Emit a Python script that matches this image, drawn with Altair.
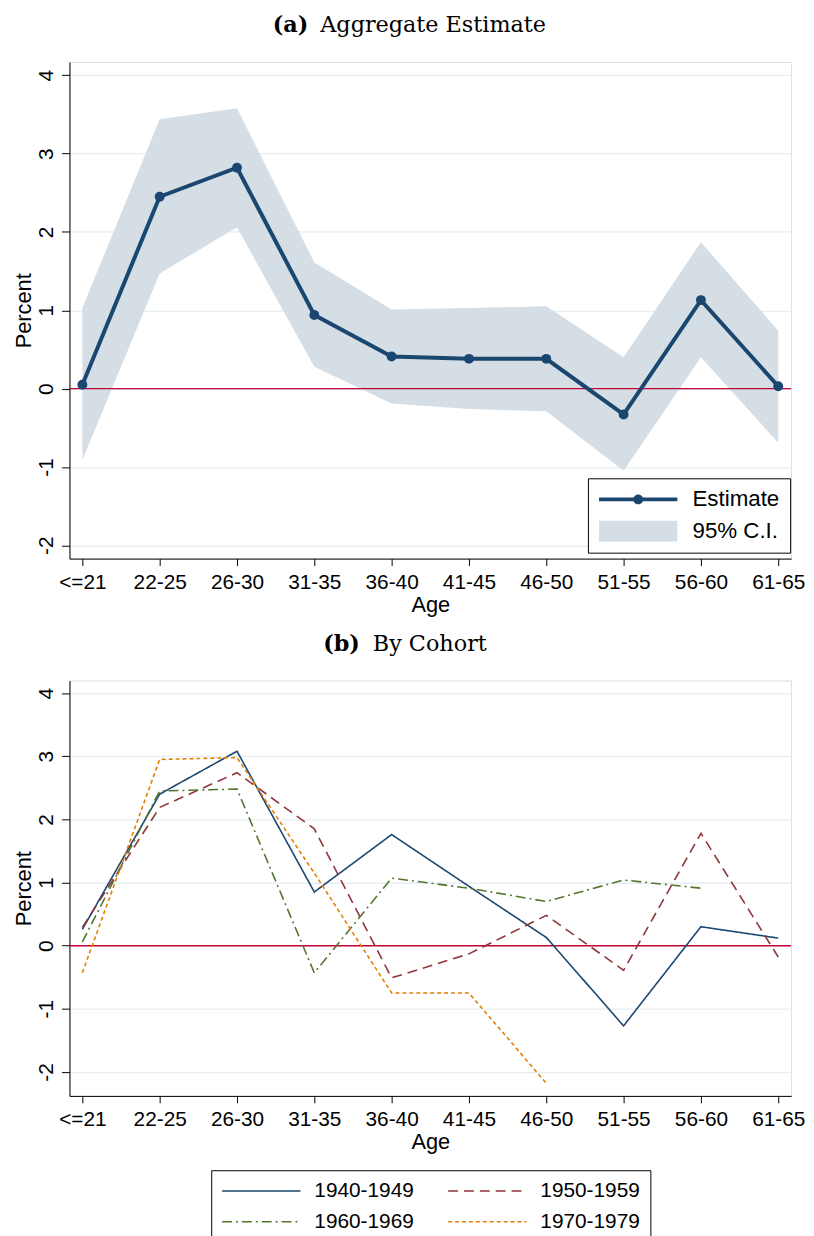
import json
import altair as alt
import pandas as pd

# ---------------- data ----------------
ages = ["<=21", "22-25", "26-30", "31-35", "36-40", "41-45", "46-50", "51-55", "56-60", "61-65"]

est = [0.05, 2.45, 2.82, 0.94, 0.41, 0.38, 0.38, -0.33, 1.13, 0.03]
ci_lo = [-0.91, 1.47, 2.06, 0.28, -0.19, -0.26, -0.29, -1.05, 0.40, -0.69]
ci_hi = [1.03, 3.44, 3.58, 1.61, 1.01, 1.03, 1.05, 0.40, 1.87, 0.74]

cohorts = ["1940-1949", "1950-1959", "1960-1969", "1970-1979"]
c1940 = [0.26, 2.40, 3.08, 0.85, 1.76, 0.94, 0.13, -1.27, 0.30, 0.12]
c1950 = [0.29, 2.19, 2.74, 1.85, -0.51, -0.13, 0.48, -0.39, 1.78, -0.18]
c1960 = [0.06, 2.45, 2.48, -0.43, 1.07, 0.91, 0.70, 1.04, 0.91, None]
c1970 = [-0.43, 2.95, 2.98, 1.15, -0.75, -0.75, -2.18, None, None, None]

legend_a_names = ["Estimate", "95% C.I."]
y_ticks = [-2, -1, 0, 1, 2, 3, 4]

# ---------------- style ----------------
NAVY = "#1a476f"
CI = "#d5dee5"
RED = "#c10534"
GRID = "#e6eef1"
coh_colors = ["#1a476f", "#90353b", "#55752f", "#e37e00"]
coh_dash = [[1, 0], [10, 6], [10, 4, 2, 4], [4, 3]]
SANS = "Liberation Sans"
SERIF = "DejaVu Serif"

W = 728
HA = 501
HB = 419
XDOM = [-0.1667, 9.1667]
TITLE_Y = -48

df_a = pd.DataFrame({"i": list(range(len(ages))), "age": ages, "est": est, "lo": ci_lo, "hi": ci_hi})

rows = []
for name, vals in zip(cohorts, [c1940, c1950, c1960, c1970]):
    for i, v in enumerate(vals):
        if v is not None:
            rows.append({"i": i, "age": ages[i], "cohort": name, "val": v})
df_b = pd.DataFrame(rows)

label_expr = json.dumps(ages) + "[datum.value]"


def xaxis():
    return alt.Axis(values=list(range(len(ages))), labelExpr=label_expr, labelAngle=0,
                    tickSize=7, tickColor="black", tickWidth=1, domainColor="black", domainWidth=1,
                    grid=False, labelFont=SANS, labelFontSize=21, labelColor="black", labelPadding=6,
                    title="Age", titleFont=SANS, titleFontSize=22, titleFontWeight="normal",
                    titleColor="black", titlePadding=2, labelFlush=False, labelOverlap=False)


def yaxis(h):
    return alt.Axis(values=y_ticks, labelExpr="toString(datum.value)", labelAngle=270,
                    labelAlign="center", labelBaseline="alphabetic", labelPadding=9,
                    tickSize=8, tickColor="black", tickWidth=1, domainColor="black", domainWidth=1,
                    grid=True, gridColor=GRID, gridWidth=1.3,
                    labelFont=SANS, labelFontSize=21, labelColor="black",
                    title="Percent", titleFont=SANS, titleFontSize=22, titleFontWeight="normal",
                    titleColor="black", titleAngle=270, titleX=-39, titleY=h / 2,
                    titleAlign="center", titleBaseline="alphabetic",
                    minExtent=61, maxExtent=61, labelOverlap=False, labelFlush=False)


def xenc():
    return alt.X("i:Q", scale=alt.Scale(domain=XDOM, nice=False, zero=False), axis=xaxis())


def text_layer(txt, x, y, bold, align):
    return alt.Chart(pd.DataFrame({"t": [txt]})).mark_text(
        font=SERIF, fontSize=22.5, fontWeight="bold" if bold else "normal",
        align=align, baseline="top", color="black"
    ).encode(text="t:N", x=alt.value(x), y=alt.value(y))


# ---------------- panel (a) ----------------
ydomA = [-2.17, 4.17]
yA = lambda f: alt.Y(f, scale=alt.Scale(domain=ydomA, nice=False, zero=False), axis=yaxis(HA))

baseA = alt.Chart(df_a)
area = baseA.mark_area(color=CI, opacity=1).encode(x=xenc(), y=yA("lo:Q"), y2="hi:Q")
zeroA = alt.Chart(pd.DataFrame({"lo": [0.0]})).mark_rule(color=RED, strokeWidth=1.5).encode(y=yA("lo:Q"))
lineA = baseA.mark_line(color=NAVY, strokeWidth=4).encode(x=xenc(), y=yA("est:Q"))
ptsA = baseA.mark_point(filled=True, size=100, color=NAVY, opacity=1, strokeWidth=0).encode(
    x=xenc(), y=yA("est:Q"))

path_est = ("M-1,-0.2L6.9,-0.2L6.9,0.2L-1,0.2Z "
            "M3.45,0A0.5,0.5 0 1 1 2.45,0A0.5,0.5 0 1 1 3.45,0Z")
path_ci = "M-1,-1.05L6.9,-1.05L6.9,1.05L-1,1.05Z"

legA = alt.Legend(title=None, orient="none", legendX=523, legendY=420,
                  strokeColor="black", fillColor="white", padding=10, cornerRadius=0,
                  labelFont=SANS, labelFontSize=22.5, labelColor="black", labelOffset=73,
                  symbolSize=400, symbolStrokeWidth=0, rowPadding=9, symbolOpacity=1)
legend_layer = alt.Chart(pd.DataFrame({"series": legend_a_names})).transform_filter("false").mark_point(
    filled=True, opacity=1, strokeWidth=0, size=400
).encode(
    color=alt.Color("series:N", scale=alt.Scale(domain=legend_a_names, range=[NAVY, CI]), legend=legA),
    shape=alt.Shape("series:N", scale=alt.Scale(domain=legend_a_names, range=[path_est, path_ci]), legend=legA),
)

panelA = alt.layer(
    area, zeroA, lineA, ptsA, legend_layer,
    text_layer("(a)", 241, TITLE_Y, True, "right"),
    text_layer("Aggregate Estimate", 253, TITLE_Y, False, "left"),
).properties(width=W, height=HA)

# ---------------- panel (b) ----------------
ydomB = [-2.38, 4.2]
yB = lambda f: alt.Y(f, scale=alt.Scale(domain=ydomB, nice=False, zero=False), axis=yaxis(HB))

legB = alt.Legend(title=None, orient="none", legendX=143, legendY=494, columns=2, columnPadding=30,
                  direction="horizontal",
                  strokeColor="black", fillColor="white", padding=10, cornerRadius=0,
                  labelFont=SANS, labelFontSize=21, labelColor="black", labelOffset=72,
                  symbolType="M-1,0L6.9,0", symbolSize=400, symbolStrokeWidth=1.6, rowPadding=10)

zeroB = alt.Chart(pd.DataFrame({"val": [0.0]})).mark_rule(color=RED, strokeWidth=1.5).encode(y=yB("val:Q"))
linesB = alt.Chart(df_b).mark_line(strokeWidth=1.6).encode(
    x=xenc(),
    y=yB("val:Q"),
    color=alt.Color("cohort:N", scale=alt.Scale(domain=cohorts, range=coh_colors), legend=legB),
    strokeDash=alt.StrokeDash("cohort:N", scale=alt.Scale(domain=cohorts, range=coh_dash), legend=legB),
    order="i:Q",
)

panelB = alt.layer(
    zeroB, linesB,
    text_layer("(b)", 293, TITLE_Y, True, "right"),
    text_layer("By Cohort", 306, TITLE_Y, False, "left"),
).properties(width=W, height=HB)

chart = alt.vconcat(panelA, panelB, spacing=16).resolve_scale(
    color="independent", strokeDash="independent", shape="independent", y="independent"
).properties(
    padding={"left": 0, "top": 0, "right": 0, "bottom": 0}
).configure_view(stroke=None).configure(background="white")

chart.save("out.html", embed_options={"renderer": "svg", "actions": False})
